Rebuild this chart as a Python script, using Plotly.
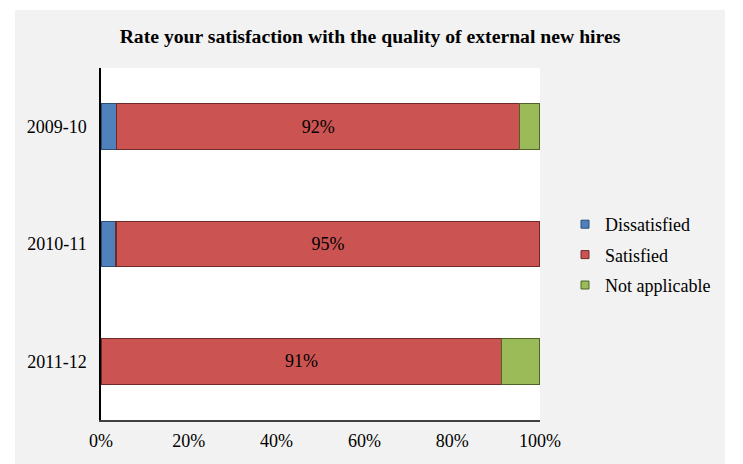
import plotly.graph_objects as go

categories = ["2009-10", "2010-11", "2011-12"]
dissatisfied = [3.6, 3.4, None]
satisfied = [91.8, 96.6, 91.3]
not_applicable = [4.6, None, 8.7]
satisfied_labels = ["92%", "95%", "91%"]
x_ticks = [0, 20, 40, 60, 80, 100]
x_tick_labels = ["0%", "20%", "40%", "60%", "80%", "100%"]

FONT = "Liberation Serif, Times New Roman, serif"

# page body has an 8px margin: the figure origin sits at (8, 8)
OFF = 8
W, H = 743 - OFF, 464 - OFF
L, R, T, B = 101 - OFF, W - (540 - OFF), 68 - OFF, H - (420 - OFF)
pw, ph = W - L - R, H - T - B

def px_x(p):
    return (p - OFF - L) / pw

def px_y(p):
    return (H - B - (p - OFF)) / ph

fig = go.Figure()
series = [
    ("Dissatisfied", dissatisfied, "#4F81BD", "#2C4D75", None),
    ("Satisfied", satisfied, "#CB5352", "#6E2A29", satisfied_labels),
    ("Not applicable", not_applicable, "#9BBB59", "#4F6228", None),
]
for name, vals, col, edge, labels in series:
    fig.add_trace(go.Bar(
        y=categories, x=vals, name=name, orientation="h",
        marker=dict(color=col, line=dict(color=edge, width=1.2)),
        width=0.39,
        text=labels, textposition="inside" if labels else "none",
        insidetextanchor="middle",
        textfont=dict(family=FONT, size=18, color="black"),
        showlegend=False, hoverinfo="x+name",
    ))
    fig.add_trace(go.Scatter(
        x=[None], y=[None], mode="markers", name=name,
        marker=dict(symbol="square", size=8, color=col, line=dict(color=edge, width=1)),
        legendgroup=name, showlegend=True,
    ))

fig.update_layout(
    width=W, height=H,
    barmode="stack",
    margin=dict(l=L, r=R, t=T, b=B, autoexpand=False),
    paper_bgcolor="white",
    plot_bgcolor="white",
    font=dict(family=FONT, size=18, color="black"),
    title=dict(text="<b>Rate your satisfaction with the quality of external new hires</b>",
               x=(370 - OFF) / W, xref="container", xanchor="center",
               y=1 - (36 - OFF) / H, yref="container", yanchor="middle",
               font=dict(family=FONT, size=19.7, color="black")),
    xaxis=dict(range=[0, 100], tickvals=x_ticks, ticktext=x_tick_labels,
               showgrid=False, zeroline=False, showline=True,
               linecolor="#404040", linewidth=1.5, ticks="",
               tickfont=dict(family=FONT, size=18), fixedrange=True),
    yaxis=dict(type="category", categoryorder="array", categoryarray=categories[::-1],
               showgrid=False, zeroline=False, showline=True,
               linecolor="black", linewidth=1.5, ticks="",
               tickfont=dict(family=FONT, size=18), fixedrange=True),
    legend=dict(x=px_x(565), xanchor="left", y=px_y(255), yanchor="middle",
                font=dict(family=FONT, size=18), bgcolor="rgba(0,0,0,0)",
                traceorder="grouped", tracegroupgap=4, itemwidth=30),
    showlegend=True,
    shapes=[
        dict(type="rect", xref="paper", yref="paper", layer="below",
             x0=px_x(15), x1=px_x(725), y0=px_y(470), y1=px_y(10),
             fillcolor="#F2F2F2", line=dict(width=0)),
        dict(type="rect", xref="paper", yref="paper", layer="below",
             x0=0, x1=1, y0=0, y1=1,
             fillcolor="white", line=dict(width=0)),
    ],
)
fig.update_xaxes(ticklabelstandoff=4)
fig.update_yaxes(ticklabelstandoff=9)

fig.write_html("out.html")
